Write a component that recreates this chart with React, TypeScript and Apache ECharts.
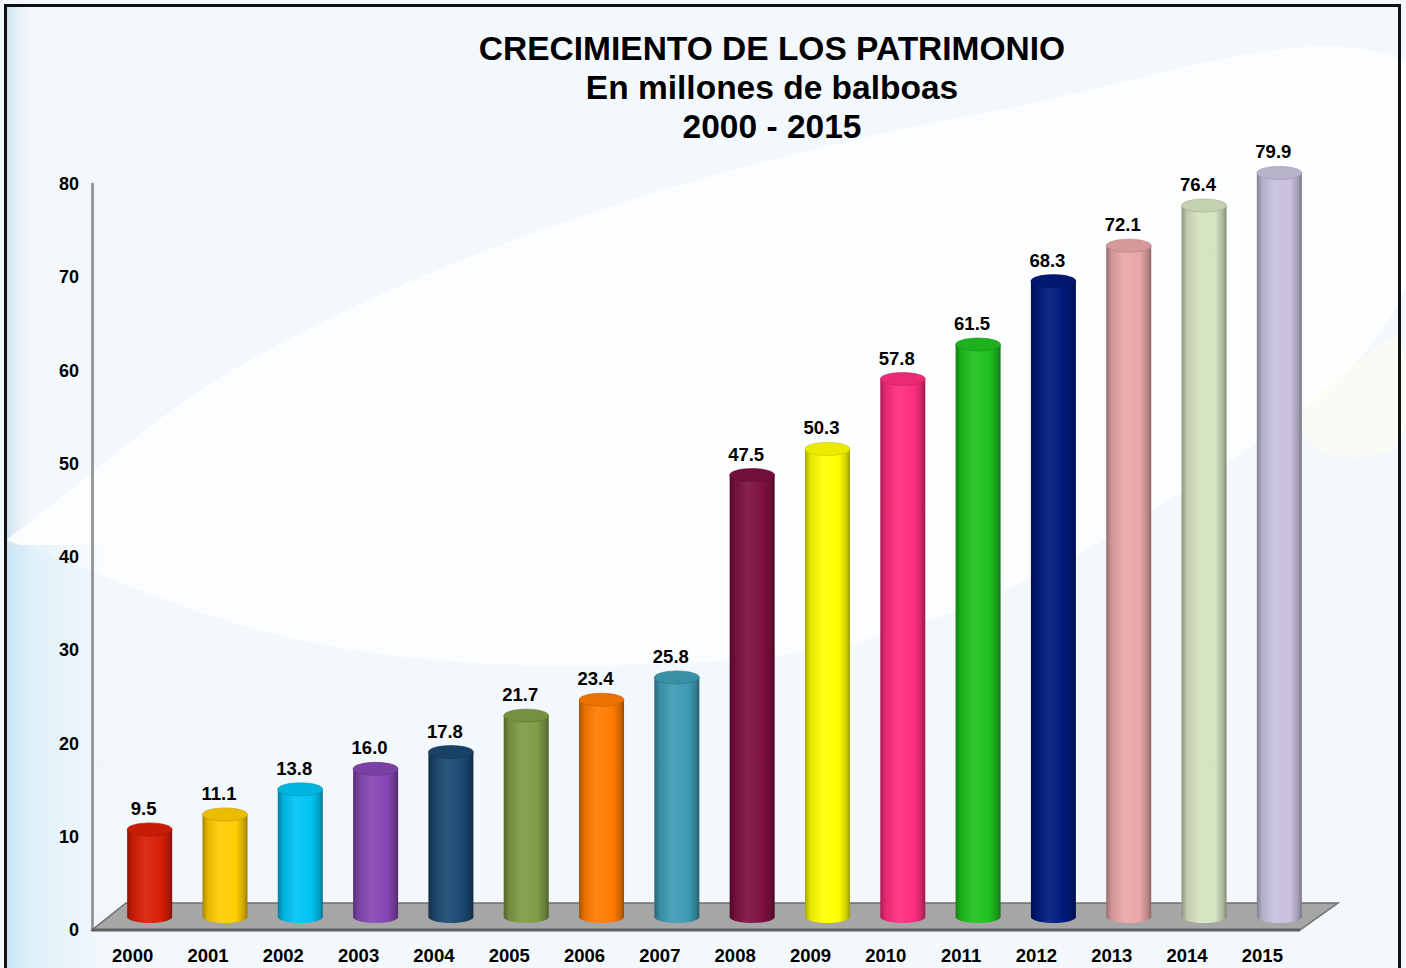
import React, { useEffect, useRef } from "react";
import * as echarts from "echarts";

const years = ["2000", "2001", "2002", "2003", "2004", "2005", "2006", "2007", "2008", "2009", "2010", "2011", "2012", "2013", "2014", "2015"];
const values = [9.5, 11.1, 13.8, 16.0, 17.8, 21.7, 23.4, 25.8, 47.5, 50.3, 57.8, 61.5, 68.3, 72.1, 76.4, 79.9];
const barColors = ["#d81e05", "#ffcc00", "#00c4f4", "#8646b4", "#1b4872", "#7f9c45", "#ff7c00", "#3d9bb4", "#7d1040", "#ffff00", "#ff2d7e", "#1fc21f", "#001a7c", "#e9a6a6", "#d5e3bf", "#c9c1dd"];
const yTicks = { min: 0, max: 80, interval: 10 };
const titleLines = ["CRECIMIENTO DE LOS PATRIMONIO", "En millones de balboas", "2000 - 2015"];

const FONT = "'Liberation Sans', Arial, sans-serif";
const DEPTH_X = 35;
const DEPTH_Y = -27;

function shade(hex: string, f: number): string {
  const n = parseInt(hex.slice(1), 16);
  let r = (n >> 16) & 255, g = (n >> 8) & 255, b = n & 255;
  if (f < 0) {
    r = Math.round(r * (1 + f)); g = Math.round(g * (1 + f)); b = Math.round(b * (1 + f));
  } else {
    r = Math.round(r + (255 - r) * f); g = Math.round(g + (255 - g) * f); b = Math.round(b + (255 - b) * f);
  }
  return "rgb(" + r + "," + g + "," + b + ")";
}

function bodyGrad(c: string) {
  return new echarts.graphic.LinearGradient(0, 0, 1, 0, [
    { offset: 0, color: shade(c, -0.35) },
    { offset: 0.12, color: shade(c, -0.1) },
    { offset: 0.4, color: shade(c, 0.08) },
    { offset: 0.75, color: c },
    { offset: 0.92, color: shade(c, -0.2) },
    { offset: 1, color: shade(c, -0.4) },
  ]);
}

export default function App() {
  const ref = useRef<HTMLDivElement>(null);
  useEffect(() => {
    const chart = echarts.init(ref.current!, null, { renderer: "svg" });
    const option: any = {
      animation: false,
      backgroundColor: "#f3f8fc",
      title: {
        text: titleLines.join("\n"),
        left: 767,
        top: 24,
        textAlign: "center",
        textStyle: { fontFamily: FONT, fontWeight: "bold", fontSize: 33.5, lineHeight: 39, color: "#000" },
      },
      graphic: [
        {
          type: "rect", z: -10, silent: true,
          shape: { x: 6, y: 6, width: 30, height: 970 },
          style: { fill: new echarts.graphic.LinearGradient(0, 0, 1, 0, [{ offset: 0, color: "#c9e0f0" }, { offset: 1, color: "rgba(243,248,252,0)" }]) },
        },
        {
          type: "polygon", z: -9, silent: true,
          shape: { points: [[6, 540], [250, 360], [600, 210], [1000, 110], [1400, 60], [1400, 300], [1200, 480], [900, 630], [600, 665], [300, 640], [6, 540]], smooth: 0.35 },
          style: { fill: "rgba(255,255,255,0.8)" },
        },
        {
          type: "rect", z: -8, silent: true,
          shape: { x: 6, y: 545, width: 110, height: 430 },
          style: { fill: new echarts.graphic.LinearGradient(0, 0, 1, 0, [{ offset: 0, color: "rgba(200,230,246,0.7)" }, { offset: 1, color: "rgba(220,238,248,0)" }]) },
        },
        {
          type: "polygon", z: -9, silent: true,
          shape: { points: [[1300, 420], [1360, 360], [1400, 340], [1400, 440], [1330, 455]], smooth: 0.4 },
          style: { fill: "rgba(255,253,235,0.5)" },
        },
        {
          type: "rect", z: 100, silent: true,
          shape: { x: 5.5, y: 5.5, width: 1394, height: 1000 },
          style: { fill: "none", stroke: "#111", lineWidth: 3 },
        },
      ],
      grid: { left: 95, right: 106, top: 184, bottom: 38, containLabel: false },
      xAxis: {
        type: "category",
        data: years,
        axisLine: { show: false },
        axisTick: { show: false },
        axisLabel: { margin: 16, fontFamily: FONT, fontWeight: "bold", fontSize: 18.5, color: "#000" },
      },
      yAxis: {
        type: "value",
        min: yTicks.min,
        max: yTicks.max,
        interval: yTicks.interval,
        offset: 3,
        splitLine: { show: false },
        axisTick: { show: false },
        axisLine: { show: true, lineStyle: { color: "#9a9a9a", width: 3 } },
        axisLabel: { margin: 13, fontFamily: FONT, fontWeight: "bold", fontSize: 18, color: "#000" },
      },
      series: [
        {
          type: "custom",
          z: 1,
          silent: true,
          data: [[0, 0]],
          renderItem: (params: any, api: any) => {
            const cs = params.coordSys;
            const y0 = api.coord([0, 0])[1];
            const xl = cs.x - 3;
            const xr = cs.x + cs.width;
            const pts = [[xl, y0], [xr, y0], [xr + DEPTH_X + 3, y0 + DEPTH_Y], [xl + DEPTH_X - 1, y0 + DEPTH_Y]];
            return {
              type: "group",
              children: [
                { type: "polygon", shape: { points: pts }, style: { fill: "#a6a6a6", stroke: "#6f6f6f", lineWidth: 1.5 } },
                { type: "line", shape: { x1: xl, y1: y0, x2: xr, y2: y0 }, style: { stroke: "#5f5f5f", lineWidth: 3 } },
              ],
            };
          },
        },
        {
          type: "custom",
          z: 2,
          data: values.map((v, i) => [i, v]),
          renderItem: (params: any, api: any) => {
            const i = api.value(0);
            const v = api.value(1);
            const top = api.coord([i, v]);
            const base = api.coord([i, 0]);
            const c = barColors[params.dataIndex];
            const w = 45;
            const cx = top[0] + 17;
            const ty = top[1] - 12;
            const by = base[1] - 13;
            const g = bodyGrad(c);
            return {
              type: "group",
              children: [
                { type: "ellipse", shape: { cx, cy: by, rx: w / 2, ry: 6 }, style: { fill: g } },
                { type: "rect", shape: { x: cx - w / 2, y: ty, width: w, height: by - ty }, style: { fill: g } },
                { type: "ellipse", shape: { cx, cy: ty, rx: w / 2, ry: 6.5 }, style: { fill: shade(c, -0.08), stroke: shade(c, -0.25), lineWidth: 0.6 } },
                {
                  type: "text",
                  style: {
                    x: cx - 6, y: ty - 21, text: v.toFixed(1), textAlign: "center", textVerticalAlign: "middle",
                    font: "bold 18.5px " + FONT, fill: "#000",
                  },
                },
              ],
            };
          },
        },
      ],
    };
    chart.setOption(option);
    return () => chart.dispose();
  }, []);
  return <div ref={ref} style={{ position: "absolute", left: 0, top: 0, width: 1406, height: 968 }} />;
}
